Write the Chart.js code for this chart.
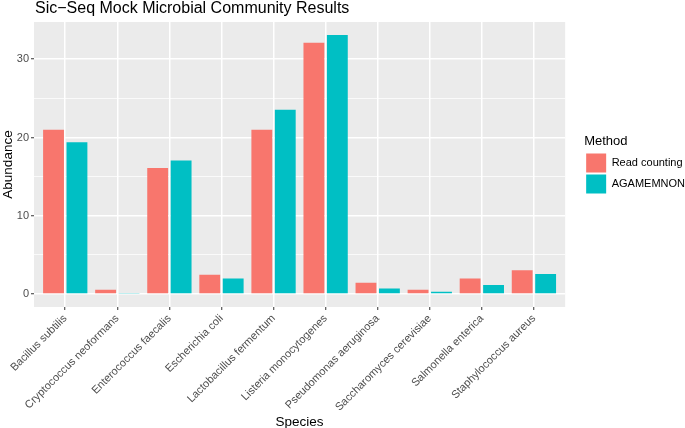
<!DOCTYPE html>
<html>
<head>
<meta charset="utf-8">
<script src="https://cdn.jsdelivr.net/npm/chart.js@4.4.1/dist/chart.umd.min.js"></script>
<style>
  html, body { margin: 0; padding: 0; background: #fff; }
  #wrap { position: relative; width: 685px; height: 428px; }
</style>
</head>
<body>
<div id="wrap"><canvas id="myChart" width="685" height="428"></canvas></div>
<script>
// species on the x axis
var species = [
    'Bacillus subtilis', 'Cryptococcus neoformans', 'Enterococcus faecalis',
    'Escherichia coli', 'Lactobacillus fermentum', 'Listeria monocytogenes',
    'Pseudomonas aeruginosa', 'Saccharomyces cerevisiae', 'Salmonella enterica',
    'Staphylococcus aureus'
];
var readCounting = [21.0, 0.55, 16.1, 2.45, 21.0, 32.1, 1.45, 0.55, 2.0, 3.05];
var agamemnon = [19.4, 0.12, 17.05, 2.0, 23.55, 33.1, 0.72, 0.3, 1.15, 2.55];
var yTicks = [0, 5, 10, 15, 20, 25, 30];
var yLabels = ['0', '', '10', '', '20', '', '30'];

var FONT = "'Liberation Sans', Arial, Helvetica, sans-serif";

// ggplot style 5% expansion of the y range
var yMax = Math.max.apply(null, readCounting.concat(agamemnon));
var yPad = yMax * 0.05;

function toPoints(values) {
    return values.map(function (v, i) { return { x: i, y: v }; });
}

var panelPlugin = {
    id: 'panel',
    afterLayout: function (chart) {
        // push the legend a bit away from the panel, like ggplot does
        chart.legend.left += 19;
        chart.legend.right += 19;
    },
    beforeDraw: function (chart) {
        var a = chart.chartArea, ctx = chart.ctx;
        ctx.save();
        ctx.fillStyle = '#EBEBEB';
        ctx.fillRect(a.left, a.top, a.right - a.left, a.bottom - a.top);
        ctx.restore();
    },
    afterDraw: function (chart) {
        var ctx = chart.ctx;
        ctx.save();
        ctx.fillStyle = '#000';
        ctx.font = '16px ' + FONT;
        ctx.textBaseline = 'alphabetic';
        ctx.fillText('Sic\u2212Seq Mock Microbial Community Results', chart.chartArea.left + 1, 13);
        ctx.restore();
    }
};

var chartArea = document.getElementById('myChart').getContext('2d');

var myChart = new Chart(chartArea, {
    type: 'bar',
    data: {
        datasets: [{
            label: 'Read counting',
            data: toPoints(readCounting),
            backgroundColor: '#F8766D',
            borderWidth: 0,
            categoryPercentage: 0.9,
            barPercentage: 0.89
        }, {
            label: 'AGAMEMNON',
            data: toPoints(agamemnon),
            backgroundColor: '#00BFC4',
            borderWidth: 0,
            categoryPercentage: 0.9,
            barPercentage: 0.89
        }]
    },
    options: {
        responsive: false,
        animation: false,
        layout: { padding: { top: 22, right: 9, left: 0, bottom: 0 } },
        plugins: {
            tooltip: { enabled: false },
            legend: {
                position: 'right',
                align: 'start',
                title: {
                    display: true,
                    text: 'Method',
                    position: 'start',
                    color: '#000',
                    font: { family: FONT, size: 13 },
                    padding: { top: 113, bottom: 1 }
                },
                labels: {
                    boxWidth: 20,
                    boxHeight: 19,
                    padding: 2,
                    color: '#000',
                    font: { family: FONT, size: 11 }
                }
            }
        },
        scales: {
            x: {
                type: 'linear',
                offset: false,
                min: -0.6,
                max: species.length - 0.4,
                afterBuildTicks: function (scale) {
                    scale.ticks = species.map(function (s, i) { return { value: i }; });
                },
                afterFit: function (scale) { scale.height = 121; },
                ticks: {
                    autoSkip: false,
                    minRotation: 45,
                    maxRotation: 45,
                    padding: 2,
                    color: '#4D4D4D',
                    font: { family: FONT, size: 11 },
                    callback: function (value) { return species[value]; }
                },
                grid: {
                    offset: false,
                    color: '#FFFFFF',
                    lineWidth: 1.5,
                    tickColor: '#333333',
                    tickWidth: 1,
                    tickLength: 3
                },
                border: { display: false },
                title: {
                    display: true,
                    text: 'Species',
                    color: '#000',
                    font: { family: FONT, size: 13.5 },
                    padding: { top: 0, bottom: -2 }
                }
            },
            y: {
                min: -yPad,
                max: yMax + yPad,
                afterBuildTicks: function (scale) {
                    scale.ticks = yTicks.map(function (v) { return { value: v }; });
                },
                afterFit: function (scale) { scale.width = 34; },
                ticks: {
                    padding: 2,
                    color: '#4D4D4D',
                    font: { family: FONT, size: 11 },
                    callback: function (value) {
                        return yLabels[yTicks.indexOf(value)];
                    }
                },
                grid: {
                    color: '#FFFFFF',
                    lineWidth: function (ctx) { return ctx.tick && ctx.tick.value % 10 === 0 ? 1.5 : 0.75; },
                    tickColor: function (ctx) { return ctx.tick && ctx.tick.value % 10 === 0 ? '#333333' : 'rgba(0,0,0,0)'; },
                    tickWidth: 1,
                    tickLength: 3
                },
                border: { display: false },
                title: {
                    display: true,
                    text: 'Abundance',
                    color: '#000',
                    font: { family: FONT, size: 13.5 },
                    padding: { top: 0, bottom: 0 }
                }
            }
        }
    },
    plugins: [panelPlugin]
});
</script>
</body>
</html>
